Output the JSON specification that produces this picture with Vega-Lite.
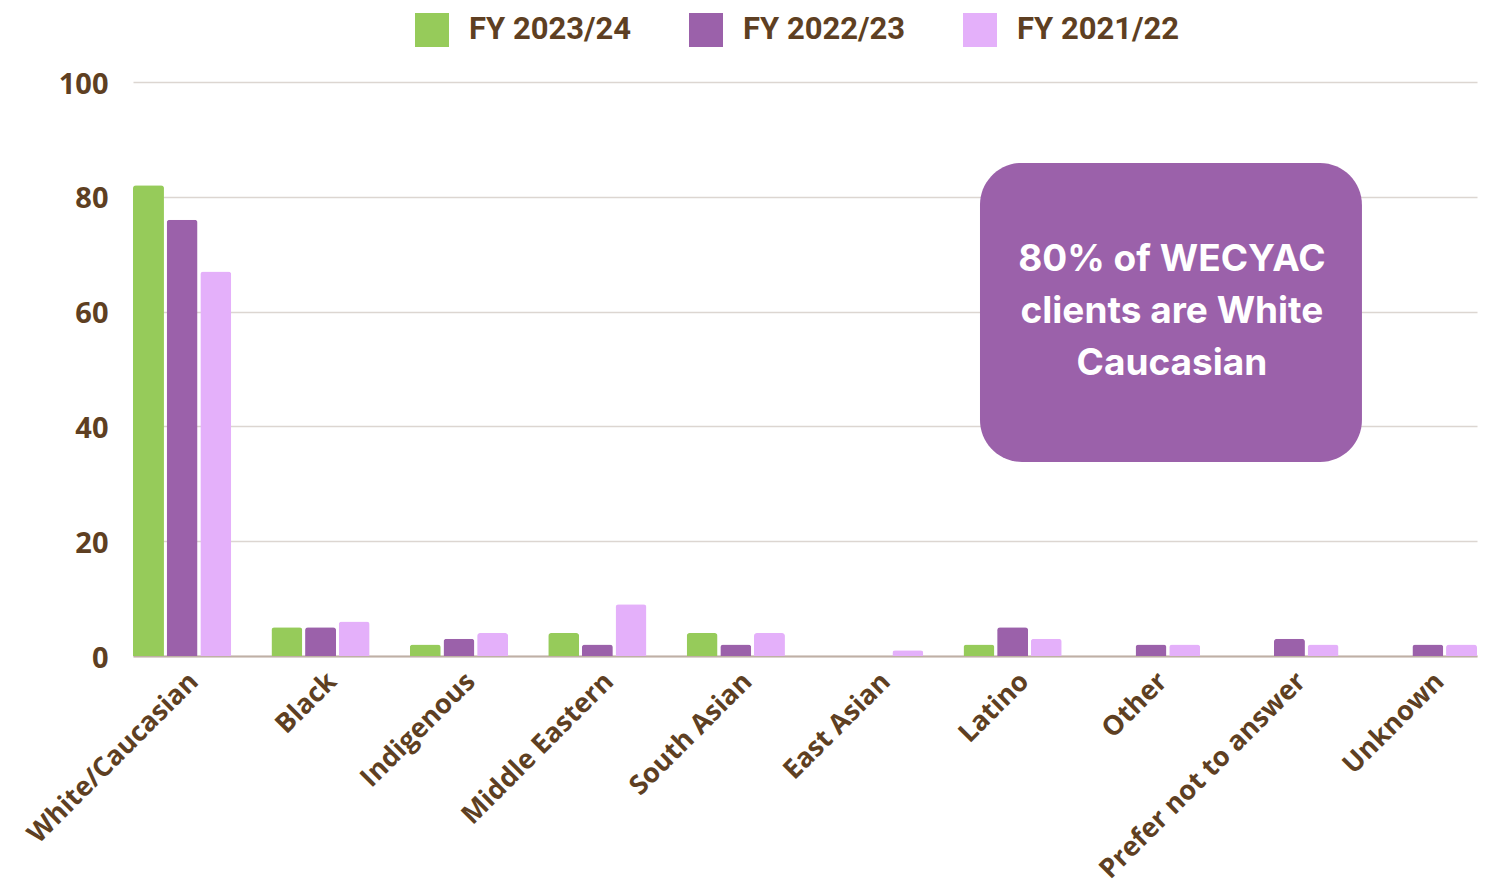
{
  "$schema": "https://vega.github.io/schema/vega-lite/v6.json",
  "width": 1344,
  "height": 574,
  "autosize": {"type": "none"},
  "padding": {"left": 133, "top": 82, "right": 12, "bottom": 237},
  "background": "white",
  "config": {
    "view": {"stroke": null},
    "font": "Open Sans"
  },
  "layer": [
    {
      "data": {
        "values": [
          {"group": "White/Caucasian", "year": "FY 2023/24", "value": 82},
          {"group": "White/Caucasian", "year": "FY 2022/23", "value": 76},
          {"group": "White/Caucasian", "year": "FY 2021/22", "value": 67},
          {"group": "Black", "year": "FY 2023/24", "value": 5},
          {"group": "Black", "year": "FY 2022/23", "value": 5},
          {"group": "Black", "year": "FY 2021/22", "value": 6},
          {"group": "Indigenous", "year": "FY 2023/24", "value": 2},
          {"group": "Indigenous", "year": "FY 2022/23", "value": 3},
          {"group": "Indigenous", "year": "FY 2021/22", "value": 4},
          {"group": "Middle Eastern", "year": "FY 2023/24", "value": 4},
          {"group": "Middle Eastern", "year": "FY 2022/23", "value": 2},
          {"group": "Middle Eastern", "year": "FY 2021/22", "value": 9},
          {"group": "South Asian", "year": "FY 2023/24", "value": 4},
          {"group": "South Asian", "year": "FY 2022/23", "value": 2},
          {"group": "South Asian", "year": "FY 2021/22", "value": 4},
          {"group": "East Asian", "year": "FY 2023/24", "value": 0},
          {"group": "East Asian", "year": "FY 2022/23", "value": 0},
          {"group": "East Asian", "year": "FY 2021/22", "value": 1},
          {"group": "Latino", "year": "FY 2023/24", "value": 2},
          {"group": "Latino", "year": "FY 2022/23", "value": 5},
          {"group": "Latino", "year": "FY 2021/22", "value": 3},
          {"group": "Other", "year": "FY 2023/24", "value": 0},
          {"group": "Other", "year": "FY 2022/23", "value": 2},
          {"group": "Other", "year": "FY 2021/22", "value": 2},
          {"group": "Prefer not to answer", "year": "FY 2023/24", "value": 0},
          {"group": "Prefer not to answer", "year": "FY 2022/23", "value": 3},
          {"group": "Prefer not to answer", "year": "FY 2021/22", "value": 2},
          {"group": "Unknown", "year": "FY 2023/24", "value": 0},
          {"group": "Unknown", "year": "FY 2022/23", "value": 2},
          {"group": "Unknown", "year": "FY 2021/22", "value": 2}
        ]
      },
      "mark": {"type": "bar", "cornerRadiusEnd": 3},
      "encoding": {
        "x": {
          "field": "group",
          "type": "nominal",
          "sort": null,
          "scale": {"paddingInner": 0.29, "paddingOuter": 0},
          "axis": {
            "title": null,
            "labelAngle": -45,
            "labelAlign": "right",
            "labelBaseline": "middle",
            "labelFont": "Open Sans",
            "labelFontSize": 27,
            "labelFontWeight": "bold",
            "labelColor": "#5e3f22",
            "labelPadding": 21,
            "labelOffset": 12,
            "ticks": false,
            "tickSize": 0,
            "domainColor": "#bfb0a5",
            "domainWidth": 2,
            "grid": false,
            "labelLimit": 500
          }
        },
        "xOffset": {
          "field": "year",
          "type": "nominal",
          "sort": ["FY 2023/24", "FY 2022/23", "FY 2021/22"],
          "scale": {"paddingInner": 0.08, "paddingOuter": 0}
        },
        "y": {
          "field": "value",
          "type": "quantitative",
          "scale": {"domain": [0, 100], "nice": false},
          "axis": {
            "title": null,
            "values": [0, 20, 40, 60, 80, 100],
            "labelFont": "Open Sans",
            "labelFontSize": 29,
            "labelFontWeight": "bold",
            "labelColor": "#5e3f22",
            "labelPadding": 25,
            "labelOffset": 2,
            "ticks": false,
            "tickSize": 0,
            "domain": false,
            "gridColor": "#dcd6d1",
            "gridWidth": 1.5
          }
        },
        "color": {
          "field": "year",
          "type": "nominal",
          "sort": ["FY 2023/24", "FY 2022/23", "FY 2021/22"],
          "scale": {
            "domain": ["FY 2023/24", "FY 2022/23", "FY 2021/22"],
            "range": ["#96cb5a", "#9b61aa", "#e4b0fa"]
          },
          "legend": {
            "title": null,
            "orient": "none",
            "direction": "horizontal",
            "legendX": 282,
            "legendY": -69,
            "symbolType": "square",
            "symbolSize": 1156,
            "symbolStrokeWidth": 0,
            "symbolOpacity": 1,
            "labelFont": "Roboto",
            "labelFontSize": 31,
            "labelFontWeight": "bold",
            "labelColor": "#5e3f22",
            "labelOffset": 20,
            "columnPadding": 57,
            "labelLimit": 400
          }
        }
      }
    },
    {
      "data": {"values": [{"x1": 6.302, "x2": 9.144, "y1": 85.9, "y2": 33.8}]},
      "mark": {"type": "rect", "cornerRadius": 42, "color": "#9b61aa"},
      "encoding": {
        "x": {"field": "x1", "type": "quantitative", "scale": {"domain": [0, 10], "nice": false, "zero": false}, "axis": null},
        "x2": {"field": "x2"},
        "y": {"field": "y1", "type": "quantitative"},
        "y2": {"field": "y2"}
      }
    },
    {
      "data": {"values": [{"x": 7.73, "y": 69, "label": ["80% of WECYAC", "clients are White", "Caucasian"]}]},
      "mark": {
        "type": "text",
        "font": "Inter",
        "fontSize": 37,
        "fontWeight": "bold",
        "color": "white",
        "align": "center",
        "baseline": "middle",
        "lineHeight": 52
      },
      "encoding": {
        "x": {"field": "x", "type": "quantitative", "scale": {"domain": [0, 10], "nice": false, "zero": false}, "axis": null},
        "y": {"field": "y", "type": "quantitative"},
        "text": {"field": "label"}
      }
    }
  ],
  "resolve": {"scale": {"x": "independent"}}
}
